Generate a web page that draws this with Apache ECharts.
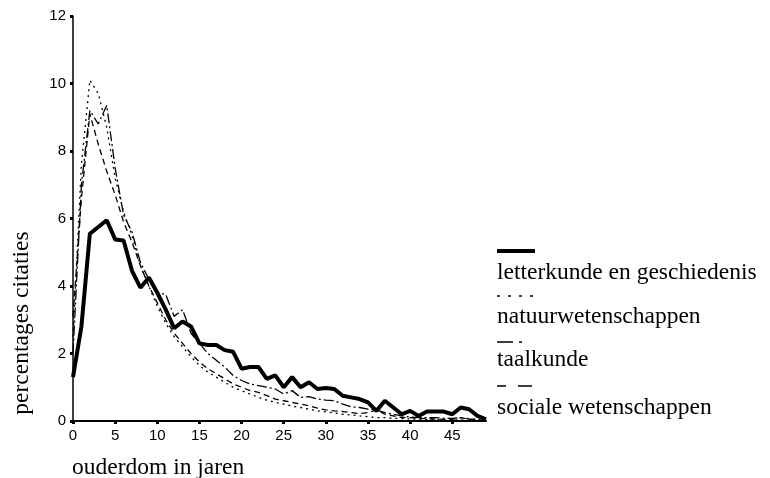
<!DOCTYPE html>
<html>
<head>
<meta charset="utf-8">
<script src="https://cdn.jsdelivr.net/npm/echarts@6/dist/echarts.min.js"></script>
<style>
  html, body { margin: 0; padding: 0; background: #fff; }
  #chart-container { width: 770px; height: 478px; }
</style>
</head>
<body>
<div id="chart-container"></div>
<script>
var ages = [0, 1, 2, 3, 4, 5, 6, 7, 8, 9, 10, 11, 12, 13, 14, 15, 16, 17, 18, 19,
  20, 21, 22, 23, 24, 25, 26, 27, 28, 29, 30, 31, 32, 33, 34, 35, 36, 37, 38, 39,
  40, 41, 42, 43, 44, 45, 46, 47, 48, 49];

var letterkunde = [1.3, 2.8, 5.55, 5.75, 5.95, 5.38, 5.35, 4.45, 3.95, 4.25,
  3.8, 3.3, 2.75, 2.95, 2.8, 2.3, 2.25, 2.25, 2.1, 2.05,
  1.55, 1.6, 1.6, 1.25, 1.35, 1.0, 1.3, 1.0, 1.15, 0.95,
  0.98, 0.95, 0.75, 0.7, 0.65, 0.55, 0.3, 0.6, 0.4, 0.2,
  0.3, 0.15, 0.28, 0.28, 0.28, 0.2, 0.4, 0.35, 0.15, 0.05];

var natuur = [2.5, 7.6, 10.1, 9.7, 8.7, 7.2, 6.2, 5.5, 4.6, 4.0,
  3.4, 2.9, 2.5, 2.2, 1.9, 1.65, 1.45, 1.3, 1.15, 1.0,
  0.9, 0.8, 0.7, 0.62, 0.55, 0.5, 0.44, 0.4, 0.35, 0.3,
  0.27, 0.24, 0.2, 0.18, 0.15, 0.13, 0.1, 0.1, 0.08, 0.07,
  0.06, 0.05, 0.05, 0.04, 0.04, 0.03, 0.03, 0.02, 0.02, 0.02];

var taal = [2.0, 7.0, 9.2, 8.8, 9.35, 7.5, 6.1, 5.6, 4.7, 4.2,
  3.8, 3.75, 3.1, 3.3, 2.6, 2.3, 2.0, 1.8, 1.6, 1.35,
  1.2, 1.1, 1.05, 1.0, 0.95, 0.8, 0.9, 0.7, 0.72, 0.65,
  0.62, 0.6, 0.5, 0.42, 0.4, 0.35, 0.33, 0.25, 0.2, 0.15,
  0.12, 0.1, 0.1, 0.1, 0.08, 0.08, 0.1, 0.06, 0.05, 0.03];

var sociale = [3.1, 6.6, 9.1, 8.2, 7.4, 6.7, 5.9, 5.3, 4.6, 4.0,
  3.5, 3.0, 2.6, 2.3, 2.0, 1.75, 1.55, 1.4, 1.25, 1.1,
  1.0, 0.9, 0.85, 0.75, 0.65, 0.6, 0.55, 0.5, 0.45, 0.38,
  0.33, 0.3, 0.28, 0.25, 0.22, 0.25, 0.33, 0.2, 0.15, 0.1,
  0.1, 0.08, 0.07, 0.06, 0.05, 0.05, 0.1, 0.04, 0.03, 0.02];

var legendNames = ["letterkunde en geschiedenis", "natuurwetenschappen", "taalkunde", "sociale wetenschappen"];

var serif = "'Liberation Serif', 'DejaVu Serif', serif";
var sans = "'Liberation Sans', Arial, sans-serif";

var dom = document.getElementById("chart-container");
var myChart = echarts.init(dom, null, { renderer: "canvas" });

function lineSeries(name, data, width, dash) {
  return {
    name: name,
    type: "line",
    data: data,
    symbol: "none",
    animation: false,
    lineStyle: { color: "#000", width: width, type: dash },
  };
}

function legendGraphic(y, width, dash, textY, label) {
  return [
    {
      type: "line",
      shape: { x1: 497, y1: y, x2: 535, y2: y },
      style: { stroke: "#000", lineWidth: width, lineDash: dash },
    },
    {
      type: "text",
      x: 497,
      y: textY,
      style: {
        text: label,
        font: "23.5px " + serif,
        fill: "#000",
        textVerticalAlign: "middle",
      },
    },
  ];
}

var option = {
  backgroundColor: "#fff",
  animation: false,
  grid: { left: 73, right: 284, top: 16, bottom: 57 },
  xAxis: {
    type: "category",
    data: ages,
    boundaryGap: false,
    axisLine: { lineStyle: { color: "#000", width: 2 } },
    axisTick: { interval: 4, length: 3, lineStyle: { color: "#000", width: 3 } },
    axisLabel: { interval: 4, color: "#000", fontFamily: sans, fontSize: 15, margin: 7 },
    splitLine: { show: false },
  },
  yAxis: {
    type: "value",
    min: 0,
    max: 12,
    interval: 2,
    axisLine: { show: true, lineStyle: { color: "#000", width: 1.5 } },
    axisTick: { show: true, length: 3, lineStyle: { color: "#000", width: 3 } },
    axisLabel: { color: "#000", fontFamily: sans, fontSize: 15, margin: 7 },
    splitLine: { show: false },
  },
  series: [
    lineSeries(legendNames[0], letterkunde, 4, "solid"),
    lineSeries(legendNames[1], natuur, 1.3, [2, 4]),
    lineSeries(legendNames[2], taal, 1.3, [10, 3, 2, 3]),
    lineSeries(legendNames[3], sociale, 1.3, [6, 4]),
  ],
  graphic: [
    {
      type: "text",
      x: 72,
      y: 468,
      style: { text: "ouderdom in jaren", font: "23.5px " + serif, fill: "#000", textVerticalAlign: "middle" },
    },
    {
      type: "text",
      x: 22,
      y: 323,
      rotation: Math.PI / 2,
      style: {
        text: "percentages citaties",
        font: "23.5px " + serif,
        fill: "#000",
        textAlign: "center",
        textVerticalAlign: "middle",
      },
    },
  ]
    .concat(legendGraphic(251, 4, null, 273, legendNames[0]))
    .concat(legendGraphic(296, 1.3, [3, 8], 317, legendNames[1]))
    .concat(legendGraphic(342, 1.3, [16, 6, 3, 30], 360, legendNames[2]))
    .concat(legendGraphic(386, 1.3, [9, 12, 14, 20], 408, legendNames[3])),
};

myChart.setOption(option);
window.addEventListener("resize", myChart.resize);
</script>
</body>
</html>
